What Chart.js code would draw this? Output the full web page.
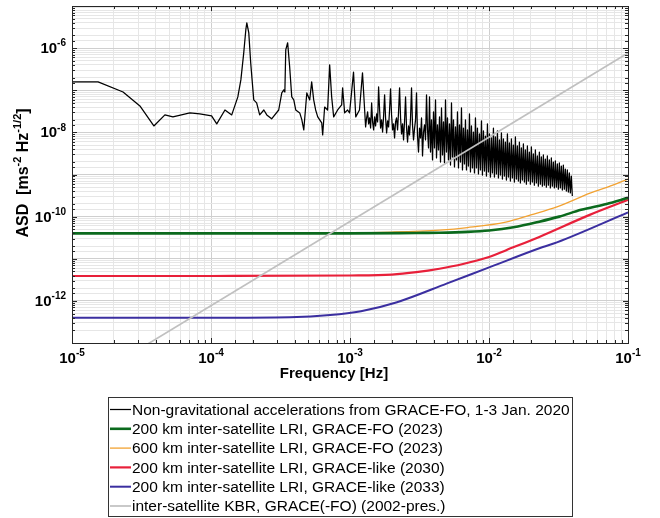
<!DOCTYPE html>
<html><head><meta charset="utf-8">
<script src="https://cdn.jsdelivr.net/npm/chart.js@4.4.1/dist/chart.umd.min.js"></script>
<style>html,body{margin:0;padding:0;background:#fff;}canvas{display:block;}</style>
</head><body>
<canvas id="c" width="660" height="518"></canvas>
<script>
// ---- tick labels / titles ----
const xTickExponents = [-5, -4, -3, -2, -1];
const yTickExponents = [-6, -8, -10, -12];
const xTitle = 'Frequency [Hz]';
const seriesLabels = [
  'Non-gravitational accelerations from GRACE-FO, 1-3 Jan. 2020',
  '200 km inter-satellite LRI, GRACE-FO (2023)',
  '600 km inter-satellite LRI, GRACE-FO (2023)',
  '200 km inter-satellite LRI, GRACE-like (2030)',
  '200 km inter-satellite LRI, GRACE-like (2033)',
  'inter-satellite KBR, GRACE(-FO) (2002-pres.)'
];

// ---- Non-gravitational accelerations (ASD) ----
const blackFreq = [
  1.00e-5,1.54e-5,2.33e-5,3.08e-5,3.88e-5,4.66e-5,5.32e-5,7.05e-5,8.30e-5,1.01e-4,
  1.10e-4,1.26e-4,1.41e-4,1.56e-4,1.64e-4,1.72e-4,1.78e-4,1.81e-4,1.87e-4,1.93e-4,
  2.03e-4,2.13e-4,2.24e-4,2.40e-4,2.52e-4,2.73e-4,3.07e-4,3.23e-4,3.34e-4,3.40e-4,
  3.45e-4,3.56e-4,3.68e-4,3.81e-4,3.94e-4,4.07e-4,4.35e-4,4.50e-4,4.65e-4,4.89e-4,
  5.13e-4,5.30e-4,5.48e-4,5.66e-4,5.86e-4,6.26e-4,6.36e-4,6.57e-4,6.90e-4,7.14e-4,
  7.38e-4,7.63e-4,8.15e-4,8.71e-4,8.85e-4,9.15e-4,9.61e-4,9.93e-4,1.06e-3,1.10e-3,
  1.17e-3,1.23e-3,1.295e-3,
  1.317e-3,1.339e-3,1.361e-3,
  1.384e-3,1.407e-3,1.431e-3,1.454e-3,1.479e-3,1.503e-3,1.528e-3,1.554e-3,1.580e-3,1.606e-3,
  1.633e-3,1.660e-3,1.688e-3,1.716e-3,1.745e-3,1.774e-3,1.803e-3,1.834e-3,1.864e-3,1.895e-3,
  1.926e-3,1.958e-3,1.991e-3,2.024e-3,2.058e-3,2.092e-3,2.127e-3,2.162e-3,2.199e-3,2.235e-3,
  2.273e-3,2.311e-3,2.349e-3,2.389e-3,2.428e-3,2.469e-3,2.510e-3,2.552e-3,2.595e-3,2.638e-3,
  2.681e-3,2.726e-3,2.771e-3,2.817e-3,2.864e-3,2.912e-3,2.961e-3,3.010e-3,3.060e-3,3.111e-3,
  3.164e-3,3.217e-3,3.270e-3,3.325e-3,3.380e-3,3.437e-3,3.494e-3,3.552e-3,3.612e-3,3.672e-3,
  3.733e-3,3.795e-3,3.859e-3,3.923e-3,3.988e-3,4.055e-3,4.123e-3,4.191e-3,4.261e-3,4.332e-3,
  4.405e-3,4.478e-3,4.553e-3,4.629e-3,4.706e-3,4.785e-3,4.865e-3,4.946e-3,5.028e-3,5.112e-3,
  5.197e-3,5.284e-3,5.372e-3,5.461e-3,5.553e-3,5.645e-3,5.739e-3,5.835e-3,5.932e-3,6.031e-3,
  6.132e-3,6.234e-3,6.338e-3,6.444e-3,6.551e-3,6.661e-3,6.772e-3,6.885e-3,7.000e-3,7.116e-3,
  7.235e-3,7.356e-3,7.478e-3,7.603e-3,7.730e-3,7.859e-3,7.990e-3,8.123e-3,8.259e-3,8.397e-3,
  8.537e-3,8.679e-3,8.824e-3,8.971e-3,9.121e-3,9.273e-3,9.428e-3,9.585e-3,9.745e-3,9.908e-3,
  1.0073e-2,1.0241e-2,1.0412e-2,1.0586e-2,1.0762e-2,1.0942e-2,1.1124e-2,1.1310e-2,1.1498e-2,1.1690e-2,
  1.1885e-2,1.2083e-2,1.2285e-2,1.2490e-2,1.2698e-2,1.2910e-2,1.3125e-2,1.3344e-2,1.3567e-2,1.3793e-2,
  1.4023e-2,1.4257e-2,1.4495e-2,1.4737e-2,1.4982e-2,1.5232e-2,1.5486e-2,1.5745e-2,1.6007e-2,1.6274e-2,
  1.6546e-2,1.6822e-2,1.7103e-2,1.7388e-2,1.7678e-2,1.7973e-2,1.8273e-2,1.8578e-2,1.8887e-2,1.9202e-2,
  1.9523e-2,1.9849e-2,2.0180e-2,2.0516e-2,2.0859e-2,2.1207e-2,2.1560e-2,2.1920e-2,2.2286e-2,2.2657e-2,
  2.3035e-2,2.3419e-2,2.3810e-2,2.4207e-2,2.4611e-2,2.5021e-2,2.5438e-2,2.5863e-2,2.6294e-2,2.6733e-2,
  2.7179e-2,2.7632e-2,2.8093e-2,2.8562e-2,2.9038e-2,2.9523e-2,3.0015e-2,3.0516e-2,3.1024e-2,3.1542e-2,
  3.2069e-2,3.2604e-2,3.3148e-2,3.3701e-2,3.4263e-2,3.4834e-2,3.5415e-2,3.6006e-2,3.6607e-2,3.7217e-2,
  3.7838e-2,3.8469e-2,3.9111e-2,3.9763e-2
];
const blackASD = [
  1.58e-7,1.58e-7,9.1e-8,4.25e-8,1.42e-8,2.6e-8,2.33e-8,2.9e-8,2.75e-8,2.46e-8,
  1.59e-8,3.4e-8,2.6e-8,6.95e-8,1.76e-7,7.7e-7,2.7e-6,4.0e-6,2.3e-6,4.5e-7,
  5.9e-8,5.0e-8,2.6e-8,3.4e-8,2.6e-8,2.1e-8,3.4e-8,8.65e-8,1.02e-7,9.1e-8,
  9.1e-7,1.34e-6,3.6e-7,6.95e-8,5.9e-8,3.4e-8,2.9e-8,2.0e-8,1.14e-8,8.65e-8,
  5.9e-8,1.58e-7,5.9e-8,3.4e-8,2.33e-8,1.68e-8,8.7e-9,4.0e-8,3.4e-8,4.0e-7,
  6.95e-8,2.33e-8,3.4e-8,4.5e-8,1.14e-7,2.9e-8,3.4e-8,2.9e-8,2.7e-7,2.33e-8,
  3.4e-8,2.6e-7,1.35e-8,
  2.2e-8,3.06e-8,1.59e-8,
  2.2e-8,1.27e-8,5.0e-8,1.77e-8,1.14e-8,2.33e-8,1.42e-8,2.75e-8,1.77e-8,1.2e-7,
  3.41e-8,1.27e-8,1.98e-8,1.02e-8,2.46e-8,7.76e-8,2.2e-8,9.7e-9,1.87e-8,1.35e-8,
  3.41e-8,1.08e-7,2.6e-8,1.14e-8,1.59e-8,7.4e-9,1.77e-8,2.2e-8,1.14e-8,3.06e-8,
  1.14e-7,2.2e-8,9.2e-9,1.59e-8,6.6e-9,1.87e-8,6.95e-8,1.27e-8,5.9e-9,1.42e-8,
  8.7e-9,2.2e-8,1.14e-7,1.5e-8,6.6e-9,1.21e-8,1.98e-8,8.7e-8,8.2e-9,3.42e-9,
  1.27e-8,7.4e-9,2.2e-8,2.76e-9,1.02e-8,1.5e-8,6.6e-9,7.76e-8,1.14e-8,4.27e-9,
  6.95e-8,3.42e-9,1.98e-8,2.21e-9,3.06e-8,4.27e-9,5.9e-8,2.47e-9,1.5e-8,3.82e-9,
  2.33e-8,1.98e-9,3.8e-8,2.91e-9,1.77e-8,1.88e-9,5.9e-8,3.42e-9,2.2e-8,2.21e-9,
  1.59e-8,1.68e-9,5.0e-8,2.6e-9,1.98e-8,1.51e-9,1.35e-8,2.21e-9,3.06e-8,1.43e-9,
  1.5e-8,1.98e-9,3.8e-8,1.28e-9,1.27e-8,1.78e-9,1.98e-8,1.28e-9,1.14e-8,1.59e-9,
  2.75e-8,1.15e-9,1.42e-8,1.43e-9,1.02e-8,1.09e-9,2.2e-8,1.43e-9,1.27e-8,1.03e-9,
  9.2e-9,1.28e-9,1.87e-8,9.7e-10,1.08e-8,1.21e-9,8.2e-9,9.2e-10,1.59e-8,1.15e-9,
  9.2e-9,8.7e-10,7.4e-9,1.09e-9,1.27e-8,8.7e-10,7.8e-9,1.03e-9,1.08e-8,8.3e-10,
  6.6e-9,9.7e-10,9.7e-9,7.8e-10,7.0e-9,9.2e-10,5.9e-9,7.4e-10,9.2e-9,8.7e-10,
  5.6e-9,7.0e-10,7.0e-9,8.3e-10,5.0e-9,6.6e-10,7.8e-9,7.8e-10,4.76e-9,7.0e-10,
  5.9e-9,6.3e-10,4.27e-9,7.4e-10,5.3e-9,6.6e-10,3.82e-9,5.9e-10,4.76e-9,7.0e-10,
  3.42e-9,5.9e-10,4.5e-9,6.6e-10,3.07e-9,5.6e-10,3.82e-9,6.3e-10,2.76e-9,5.3e-10,
  3.42e-9,5.9e-10,2.61e-9,5.3e-10,2.91e-9,5.6e-10,2.33e-9,5.0e-10,2.76e-9,5.6e-10,
  2.21e-9,4.8e-10,2.47e-9,5.3e-10,1.98e-9,4.8e-10,2.1e-9,5.0e-10,1.78e-9,4.5e-10,
  1.88e-9,4.8e-10,1.59e-9,4.28e-10,1.68e-9,4.5e-10,1.35e-9,4.05e-10,1.28e-9,3.84e-10,
  1.09e-9,3.64e-10,9.2e-10,3.09e-10
];

// ---- LRI / KBR noise curves ----
const lri200FoFreq = [1e-5, 1e-4, 1e-3, 3e-3, 4.4e-3, 7.0e-3, 1.0e-2, 1.5e-2, 2.3e-2, 3.2e-2, 4.6e-2, 7.0e-2, 0.1];
const lri200FoASD  = [4.0e-11, 4.0e-11, 4.0e-11, 4.1e-11, 4.15e-11, 4.35e-11, 4.7e-11, 5.6e-11, 7.6e-11, 1.0e-10, 1.45e-10, 2.0e-10, 2.8e-10];

const lri600FoFreq = [1e-5, 1e-4, 1e-3, 2e-3, 4.4e-3, 7e-3, 1.32e-2, 2.0e-2, 3.08e-2, 5.33e-2, 7.5e-2, 0.1];
const lri600FoASD  = [4.0e-11, 4.0e-11, 4.1e-11, 4.3e-11, 4.8e-11, 5.5e-11, 7.4e-11, 1.1e-10, 1.7e-10, 3.6e-10, 5.4e-10, 7.8e-10];

const lri2030Freq = [1e-5, 1e-4, 1e-3, 2e-3, 3e-3, 4.4e-3, 6.5e-3, 1.0e-2, 1.33e-2, 2.3e-2, 5.3e-2, 0.1];
const lri2030ASD  = [3.9e-12, 3.9e-12, 4.0e-12, 4.2e-12, 4.8e-12, 5.8e-12, 7.5e-12, 1.1e-11, 1.6e-11, 3.3e-11, 1.1e-10, 2.5e-10];

const lri2033Freq = [1e-5, 1e-4, 3.7e-4, 7.2e-4, 1.2e-3, 2.18e-3, 5.0e-3, 9.7e-3, 2.44e-2, 3.08e-2, 0.1];
const lri2033ASD  = [4.0e-13, 4.0e-13, 4.1e-13, 4.6e-13, 5.7e-13, 9.3e-13, 2.6e-12, 6.0e-12, 1.9e-11, 2.45e-11, 1.26e-10];

const kbrFreq = [1e-5, 0.1];
const kbrASD  = [7.7e-15, 7.7e-7];

const FONT = "'Liberation Sans', Arial, sans-serif";
const toPts = (fs, vs) => fs.map((f, i) => ({x: f, y: vs[i]}));
const colors = ['#000000', '#0b6a1d', '#f2a232', '#e8203a', '#3b2fa0', '#c0c0c0'];
const widths = [1.25, 2.6, 1.3, 2.2, 2.0, 1.7];
const seriesData = [
  toPts(blackFreq, blackASD), toPts(lri200FoFreq, lri200FoASD), toPts(lri600FoFreq, lri600FoASD),
  toPts(lri2030Freq, lri2030ASD), toPts(lri2033Freq, lri2033ASD), toPts(kbrFreq, kbrASD)
];
const drawOrder = [5, 2, 3, 4, 1, 0]; // lower = on top
const datasets = seriesData.map((d, i) => ({
  label: seriesLabels[i], data: d, borderColor: colors[i], borderWidth: widths[i],
  pointRadius: 0, fill: false, order: drawOrder[i],
  tension: (i === 0 || i === 5) ? 0 : 0.4,
  cubicInterpolationMode: (i === 0 || i === 5) ? 'default' : 'monotone'
}));

function isMajor(v) { const l = Math.log10(v); return Math.abs(l - Math.round(l)) < 1e-6; }

function drawPow(ctx, exp, x, y, align, size) {
  const base = '10', sup = String(exp);
  ctx.font = `bold ${size}px ${FONT}`;
  const wb = ctx.measureText(base).width;
  ctx.font = `bold ${Math.round(size * 0.68)}px ${FONT}`;
  const ws = ctx.measureText(sup).width;
  const total = wb + ws;
  let x0 = align === 'right' ? x - total : align === 'center' ? x - total / 2 : x;
  ctx.textAlign = 'left'; ctx.textBaseline = 'alphabetic'; ctx.fillStyle = '#000';
  ctx.font = `bold ${size}px ${FONT}`;
  ctx.fillText(base, x0, y);
  ctx.font = `bold ${Math.round(size * 0.68)}px ${FONT}`;
  ctx.fillText(sup, x0 + wb, y - size * 0.45);
}

const decor = {
  id: 'decor',
  afterDraw(chart) {
    const ctx = chart.ctx, ca = chart.chartArea;
    const xs = chart.scales.x, ys = chart.scales.y;
    ctx.save();
    ctx.strokeStyle = '#262626'; ctx.lineWidth = 1;
    ctx.beginPath();
    xs.ticks.forEach(t => {
      const px = Math.round(xs.getPixelForValue(t.value)) + 0.5;
      const L = isMajor(t.value) ? 5 : 3;
      ctx.moveTo(px, ca.bottom); ctx.lineTo(px, ca.bottom - L);
      ctx.moveTo(px, ca.top); ctx.lineTo(px, ca.top + L);
    });
    ys.ticks.forEach(t => {
      const py = Math.round(ys.getPixelForValue(t.value)) + 0.5;
      const L = isMajor(t.value) ? 5 : 3;
      ctx.moveTo(ca.left, py); ctx.lineTo(ca.left + L, py);
      ctx.moveTo(ca.right, py); ctx.lineTo(ca.right - L, py);
    });
    ctx.stroke();
    ctx.strokeRect(Math.round(ca.left) + 0.5, Math.round(ca.top) + 0.5,
                   Math.round(ca.right - ca.left), Math.round(ca.bottom - ca.top));
    xTickExponents.forEach(e => {
      const px = xs.getPixelForValue(Math.pow(10, e));
      drawPow(ctx, e, px, ca.bottom + 20, 'center', 15);
    });
    yTickExponents.forEach(e => {
      const py = ys.getPixelForValue(Math.pow(10, e));
      drawPow(ctx, e, ca.left - 6, py + 5, 'right', 15);
    });
    ctx.font = `bold 15px ${FONT}`; ctx.fillStyle = '#000';
    ctx.textAlign = 'center'; ctx.textBaseline = 'middle';
    ctx.fillText(xTitle, 334, 374);
    const parts = [['ASD  [ms', false], ['-2', true], [' Hz', false], ['-1/2', true], [']', false]];
    ctx.save();
    ctx.translate(22, 173); ctx.rotate(-Math.PI / 2);
    let tw = 0;
    parts.forEach(([t, s]) => { ctx.font = `bold ${s ? 11 : 16}px ${FONT}`; tw += ctx.measureText(t).width; });
    let cx = -tw / 2;
    ctx.textAlign = 'left'; ctx.textBaseline = 'alphabetic';
    parts.forEach(([t, s]) => {
      ctx.font = `bold ${s ? 11 : 16}px ${FONT}`;
      ctx.fillText(t, cx, s ? -1 : 6);
      cx += ctx.measureText(t).width;
    });
    ctx.restore();
    const lx = 108, ly = 397, lw = 464, lh = 120;
    ctx.fillStyle = '#fff'; ctx.fillRect(lx, ly, lw, lh);
    ctx.strokeStyle = '#333'; ctx.lineWidth = 1;
    ctx.strokeRect(lx + 0.5, ly + 0.5, lw, lh - 1);
    ctx.font = `15.5px ${FONT}`; ctx.textAlign = 'left'; ctx.textBaseline = 'middle';
    seriesLabels.forEach((lab, i) => {
      const yy = 409.5 + i * 19.3;
      ctx.strokeStyle = colors[i]; ctx.lineWidth = Math.max(1.2, widths[i]);
      ctx.beginPath(); ctx.moveTo(110, yy); ctx.lineTo(131, yy); ctx.stroke();
      ctx.fillStyle = '#000';
      ctx.fillText(lab, 132, yy + 1);
    });
    ctx.restore();
  }
};

new Chart(document.getElementById('c'), {
  type: 'line',
  data: { datasets },
  options: {
    responsive: false, animation: false, devicePixelRatio: 1,
    layout: { padding: { left: 72, top: 6, right: 32, bottom: 175 } },
    plugins: { legend: { display: false }, tooltip: { enabled: false } },
    elements: { line: { borderJoinStyle: 'round' } },
    scales: {
      x: {
        type: 'logarithmic', min: 1e-5, max: 0.1,
        ticks: { display: false },
        grid: { drawTicks: false, lineWidth: 1, color: c => (c.tick && isMajor(c.tick.value)) ? '#cfcfcf' : '#e6e6e6' },
        border: { display: false }
      },
      y: {
        type: 'logarithmic', min: 1e-13, max: 1e-5,
        ticks: { display: false },
        grid: { drawTicks: false, lineWidth: 1, color: c => (c.tick && isMajor(c.tick.value)) ? '#cfcfcf' : '#e6e6e6' },
        border: { display: false }
      }
    }
  },
  plugins: [decor]
});
</script>
</body></html>
